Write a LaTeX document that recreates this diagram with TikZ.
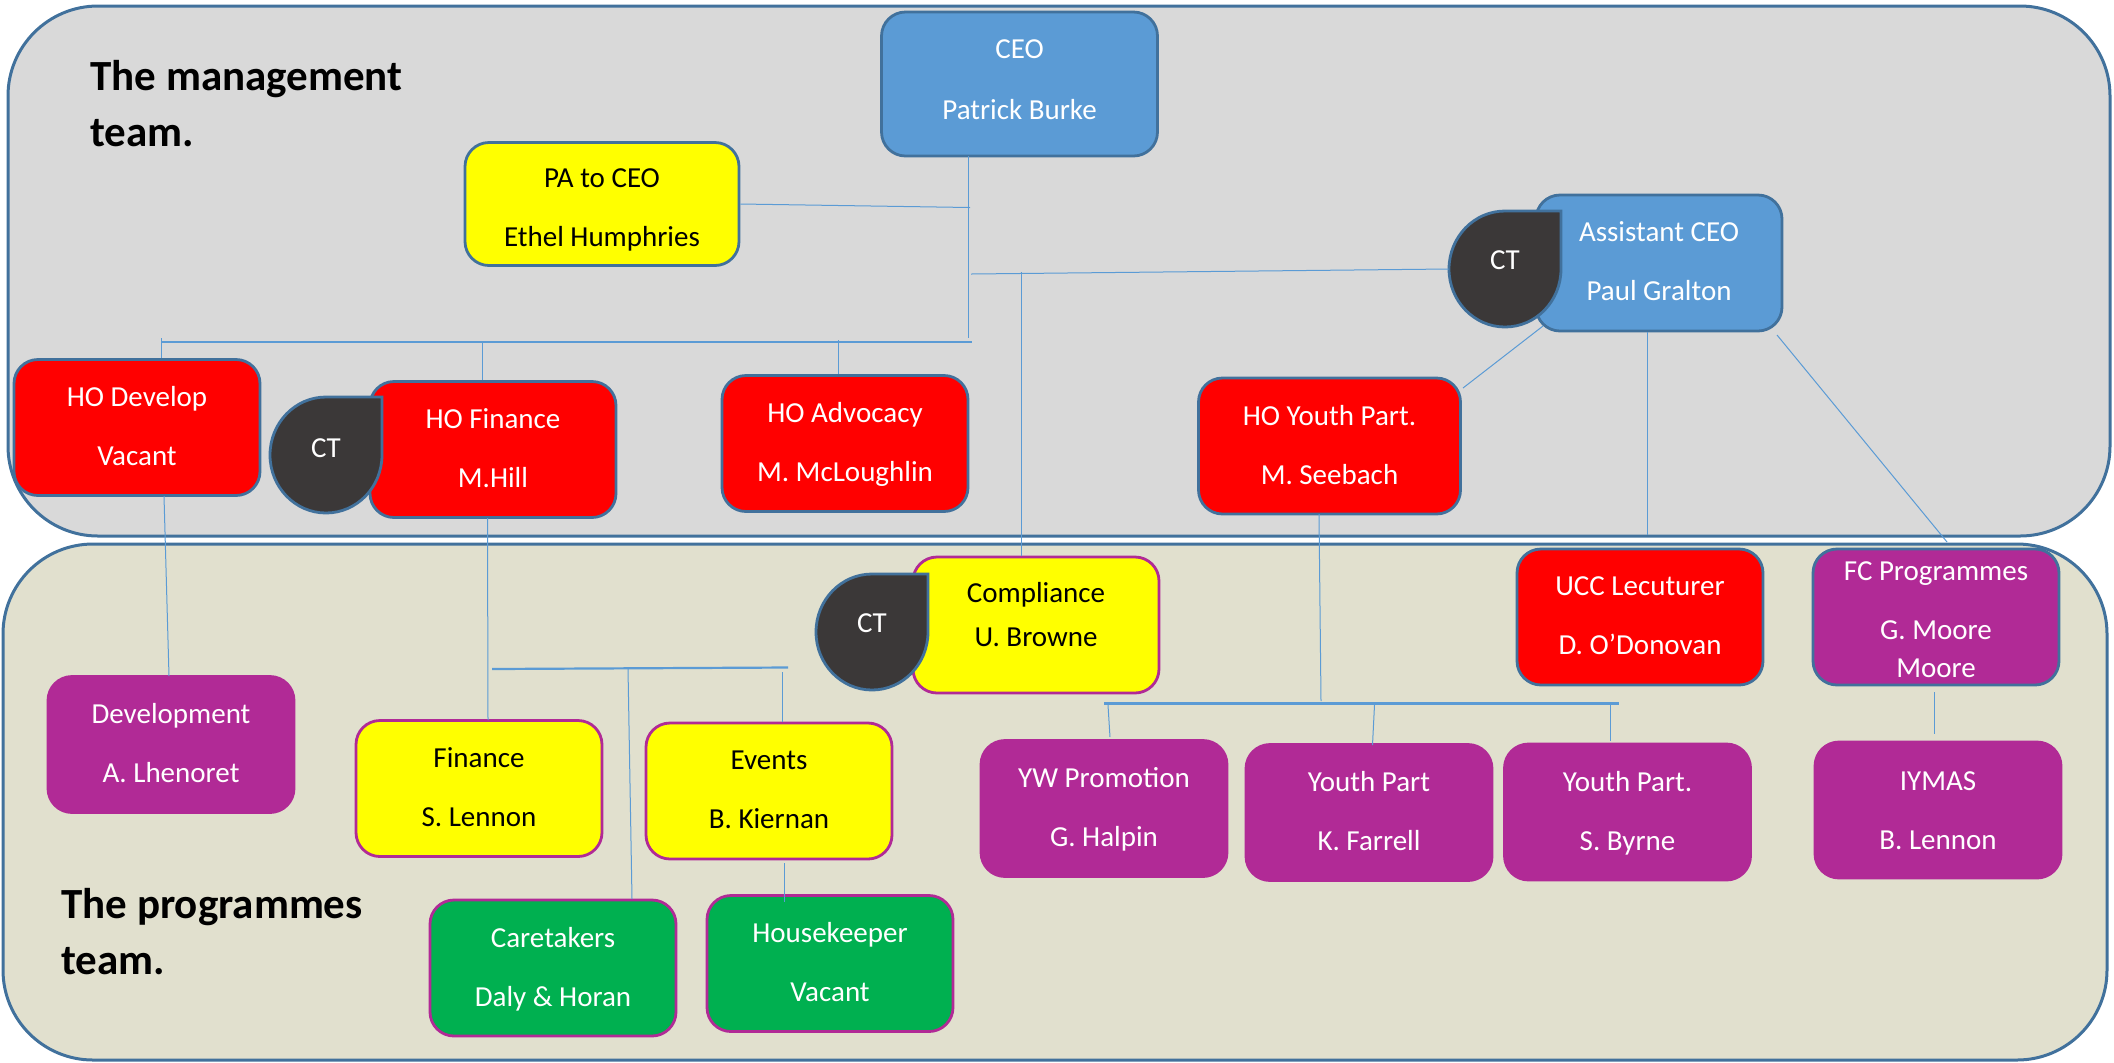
\documentclass[tikz,border=0pt]{standalone}
\usetikzlibrary{shapes.geometric}
\usepackage{fontspec}
\setmainfont{Carlito}
\definecolor{panelline}{HTML}{41719C}
\definecolor{panelgrey}{HTML}{D9D9D9}
\definecolor{panelsand}{HTML}{E1E0CE}
\definecolor{linkblue}{HTML}{5B9BD5}
\definecolor{topblue}{HTML}{5B9BD5}
\definecolor{redbg}{HTML}{FF0000}
\definecolor{yellowbg}{HTML}{FFFF00}
\definecolor{purplebox}{HTML}{B12A96}
\definecolor{greenbox}{HTML}{00B050}
\definecolor{ctgrey}{HTML}{3B3838}
\begin{document}
\begin{tikzpicture}[x=0.5pt,y=-0.5pt]
        \tikzset{panel/.style = {draw=panelline,line width=1.5pt,rounded corners=45pt}}
        \tikzset{box/.style = {rectangle,rounded corners=12pt,line width=1.4pt,inner sep=0pt,align=center,minimum width=123pt,minimum height=68pt,text depth=1.5pt,font=\fontsize{14.5}{29.5}\selectfont}}
        \tikzset{bluebox/.style = {box,fill=topblue,draw=panelline,text=white}}
        \tikzset{redbox/.style = {box,fill=redbg,draw=panelline,text=white}}
        \tikzset{paleblue/.style = {box,fill=yellowbg,draw=panelline,text=black}}
        \tikzset{yellowbox/.style = {box,fill=yellowbg,draw=purplebox,text=black}}
        \tikzset{team/.style = {box,fill=purplebox,draw=purplebox,text=white}}
        \tikzset{teamblue/.style = {box,fill=purplebox,draw=panelline,text=white}}
        \tikzset{support/.style = {box,fill=greenbox,draw=purplebox,text=white}}
        \tikzset{drop/.style = {fill=ctgrey,draw=panelline,line width=1.4pt}}
        \tikzset{ct/.style = {ellipse,inner sep=0pt,minimum width=56pt,minimum height=58pt,text=white,font=\fontsize{14.5}{17}\selectfont}}
        \tikzset{heading/.style = {anchor=west,align=left,inner sep=0pt,font=\fontsize{21.5}{28}\selectfont\bfseries}}
        \tikzset{link/.style = {draw=linkblue,line width=0.5pt}}
        \tikzset{bar/.style = {draw=linkblue,line width=1.1pt}}
        \useasboundingbox (0,0) rectangle (2114,1062);

        \draw[panel,fill=panelgrey] (8,6) rectangle (2110,536);
        \draw[panel,fill=panelsand] (3,544) rectangle (2107,1060);

        \node[heading] (mgmt) at (90,104) {The management\\team.};
        \node[heading] (prog) at (61,932) {The programmes\\team.};

        \node[bluebox,minimum width=138pt,minimum height=72pt] (ceo) at (1019.5,84) {\raisebox{3pt}{CEO}\\[1.35pt]\raisebox{3pt}{Patrick Burke}};
        \node[paleblue,minimum width=137pt,minimum height=61.5pt] (pa) at (602,204) {\rule{0pt}{14.6pt}PA to CEO\\Ethel Humphries};
        \node[bluebox] (assist) at (1659,263) {Assistant CEO\\Paul Gralton};

        \node[redbox] (hodev) at (137,427.5) {HO Develop\\Vacant};
        \node[redbox] (hofin) at (493,449.5) {HO Finance\\M.Hill};
        \node[redbox] (hoadv) at (845,443.5) {HO Advocacy\\M. McLoughlin};
        \node[redbox,minimum width=131pt] (hoyouth) at (1329.5,446) {HO Youth Part.\\M. Seebach};

        \node[yellowbox] (comp) at (1036,625) {\raisebox{9pt}{Compliance}\\[-7.5pt]\raisebox{9pt}{U. Browne}};
        \node[redbox] (ucc) at (1640,617) {UCC Lecuturer\\D. O’Donovan};
        \node[teamblue] (fcprog) at (1936,617) {\rule{0pt}{13.4pt}FC Programmes\\G. Moore\\[-10.5pt]Moore};

        \node[team] (dev) at (171,744.5) {Development\\A. Lhenoret};
        \node[yellowbox] (fin) at (479,788.5) {Finance\\S. Lennon};
        \node[yellowbox] (events) at (769,791) {Events\\B. Kiernan};
        \node[team] (ywprom) at (1104,808.5) {YW Promotion\\G. Halpin};
        \node[team] (youtha) at (1369,812.5) {Youth Part\\K. Farrell};
        \node[team] (youthb) at (1627.5,812) {Youth Part.\\S. Byrne};
        \node[team] (iymas) at (1938,810) {\rule{0pt}{11.6pt}IYMAS\\B. Lennon};
        \node[support] (care) at (553,968) {Caretakers\\Daly \& Horan};
        \node[support] (house) at (830,963.5) {Housekeeper\\Vacant};

        \draw[drop] (1505,211) arc[start angle=90,end angle=360,x radius=28pt,y radius=29pt] -- (1561,211) -- cycle;
        \node[ct] (cta) at (1505,269) {\raisebox{8.5pt}{CT}};
        \draw[drop] (326,397) arc[start angle=90,end angle=360,x radius=28pt,y radius=29pt] -- (382,397) -- cycle;
        \node[ct] (ctb) at (326,457) {\raisebox{8.5pt}{CT}};
        \draw[drop] (872,574) arc[start angle=90,end angle=360,x radius=28pt,y radius=29pt] -- (928,574) -- cycle;
        \node[ct] (ctc) at (872,632) {\raisebox{8.5pt}{CT}};

        \coordinate (ceoleg) at (968,156);
        \coordinate (trunk) at (968,338);
        \coordinate (trunkpa) at (970,207.5);
        \coordinate (trunkct) at (971,274);
        \coordinate (compjoin) at (1021,272);
        \coordinate (barleft) at (161,342);
        \coordinate (barright) at (972,342);
        \coordinate (devtop) at (161,338);
        \coordinate (finjoin) at (482,342);
        \coordinate (advjoin) at (838,340);
        \coordinate (devlegtop) at (164,496);
        \coordinate (devlegend) at (169,676);
        \coordinate (finlegtop) at (487.5,518);
        \coordinate (finlegend) at (488,720);
        \coordinate (finleft) at (492,669);
        \coordinate (finright) at (788,667.5);
        \coordinate (carejoin) at (628,668.5);
        \coordinate (careend) at (632,899);
        \coordinate (eventsjoin) at (782,672);
        \coordinate (housetop) at (784,863);
        \coordinate (houseend) at (784,902);
        \coordinate (assistleft) at (1543,326);
        \coordinate (youthcorner) at (1463,388);
        \coordinate (uccleg) at (1647,332);
        \coordinate (uccend) at (1647,535);
        \coordinate (fcleg) at (1777,335);
        \coordinate (fcend) at (1947,542);
        \coordinate (youthtop) at (1319,514);
        \coordinate (youthjoin) at (1321,701);
        \coordinate (youthleft) at (1104,703.5);
        \coordinate (youthright) at (1619,703.5);
        \coordinate (ywtop) at (1108,705);
        \coordinate (ywend) at (1110,737);
        \coordinate (youthatop) at (1374.5,705);
        \coordinate (youthaend) at (1372.5,745);
        \coordinate (youthbtop) at (1610.5,705);
        \coordinate (youthbend) at (1610.5,741);
        \coordinate (iymastop) at (1934.5,692);
        \coordinate (iymasend) at (1934.5,734);

        \draw[link] (ceoleg) -- (trunk);
        \draw[link] (pa.east) -- (trunkpa);
        \draw[link] (trunkct) -- (cta.west);
        \draw[link] (compjoin) -- (comp.north -| compjoin);
        \draw[bar] (barleft) -- (barright);
        \draw[link] (devtop) -- (hodev.north -| devtop);
        \draw[link] (finjoin) -- (hofin.north -| finjoin);
        \draw[link] (advjoin) -- (hoadv.north -| advjoin);

        \draw[link] (devlegtop) -- (devlegend);
        \draw[link] (finlegtop) -- (finlegend);
        \draw[bar] (finleft) -- (finright);
        \draw[link] (carejoin) -- (careend);
        \draw[link] (eventsjoin) -- (events.north -| eventsjoin);
        \draw[link] (housetop) -- (houseend);

        \draw[link] (assistleft) -- (youthcorner);
        \draw[link] (uccleg) -- (uccend);
        \draw[link] (fcleg) -- (fcend);
        \draw[link] (youthtop) -- (youthjoin);
        \draw[bar] (youthleft) -- (youthright);
        \draw[link] (ywtop) -- (ywend);
        \draw[link] (youthatop) -- (youthaend);
        \draw[link] (youthbtop) -- (youthbend);
        \draw[link] (iymastop) -- (iymasend);
\end{tikzpicture}
\end{document}
